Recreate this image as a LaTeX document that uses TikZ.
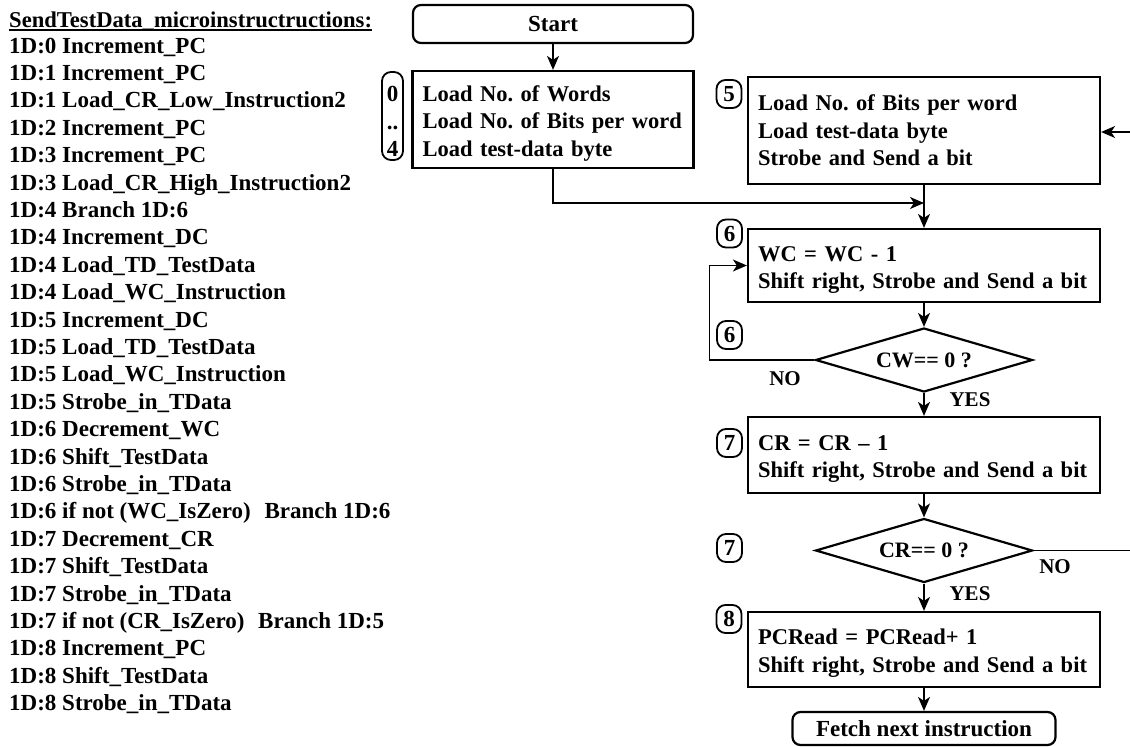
\documentclass[tikz,border=0pt]{standalone}
\usepackage{fontspec}
\setmainfont{Liberation Serif}
\usetikzlibrary{shapes.geometric,arrows.meta}
\frenchspacing

\begin{document}
\begin{tikzpicture}[x=1pt,y=-1pt,
  every node/.style={font=\bfseries\fontsize{23}{27.5}\selectfont},
  listline/.style={anchor=base west, inner sep=0pt},
  arr/.style={draw, line width=1.6pt, -{Stealth[length=14pt,width=12pt,inset=4pt]}},
  flowbox/.style={draw, line width=2.2pt, rectangle, align=left,
    inner xsep=10pt, inner ysep=0pt, text width=#1,
    font=\bfseries\fontsize{22.5}{27.5}\selectfont},
  termbox/.style={draw, line width=2.2pt, rectangle, rounded corners=8pt,
    inner sep=0pt, font=\bfseries\fontsize{23}{27.5}\selectfont},
  decision/.style={draw, diamond, aspect=3.4, line width=2.2pt,
    minimum width=217pt, minimum height=64pt, inner sep=0pt,
    font=\bfseries\fontsize{22}{26}\selectfont},
  stepnum/.style={draw, line width=1.8pt, rounded corners=9pt,
    minimum width=25pt, minimum height=28pt, inner sep=0pt, align=center},
  branchlabel/.style={inner sep=0pt, font=\bfseries\fontsize{21}{25}\selectfont}
]
\useasboundingbox (0,0) rectangle (1130,747);
% strut that sets the height of a box's first text line
\newcommand{\firstline}[1]{\rule{0pt}{#1}}

% ---- microinstruction listing ----
\node[listline, font=\bfseries\fontsize{22.6}{27}\selectfont] (title) at (9,27)
  {SendTestData\_microinstructructions:};
\draw[line width=1.5pt] ([yshift=-3pt]title.base west) -- ([yshift=-3pt]title.base east);

\foreach \txt [count=\i] in {
  1D:0 Increment\_PC,
  1D:1 Increment\_PC,
  1D:1 Load\_CR\_Low\_Instruction2,
  1D:2 Increment\_PC,
  1D:3 Increment\_PC,
  1D:3 Load\_CR\_High\_Instruction2,
  1D:4 Branch 1D:6,
  1D:4 Increment\_DC,
  1D:4 Load\_TD\_TestData,
  1D:4 Load\_WC\_Instruction,
  1D:5 Increment\_DC,
  1D:5 Load\_TD\_TestData,
  1D:5 Load\_WC\_Instruction,
  1D:5 Strobe\_in\_TData,
  1D:6 Decrement\_WC,
  1D:6 Shift\_TestData,
  1D:6 Strobe\_in\_TData,
  1D:6 if not (WC\_IsZero)\hspace{8pt} Branch 1D:6,
  1D:7 Decrement\_CR,
  1D:7 Shift\_TestData,
  1D:7 Strobe\_in\_TData,
  1D:7 if not (CR\_IsZero)\hspace{8pt} Branch 1D:5,
  1D:8 Increment\_PC,
  1D:8 Shift\_TestData,
  1D:8 Strobe\_in\_TData}
  \node[listline] (m\i) at (9,{53+27.4*(\i-1)}) {\txt};

% ---- flowchart ----
\node[termbox, minimum width=280pt, minimum height=38pt] (start) at (553,24) {Start};

\node[flowbox=261pt, minimum height=97pt] (b1) at (553,119.5)
  {\firstline{23pt}Load No. of Words\\Load No. of Bits per word\\Load test-data byte};
\node[stepnum, minimum width=21pt, minimum height=88pt] (s04) at (392.5,116)
  {\firstline{26pt}0\\..\\4};

\node[flowbox=332pt, minimum height=107pt] (b5) at (924,130.5)
  {Load No. of Bits per word\\Load test-data byte\\Strobe and Send a bit};
\node[stepnum] (s5) at (729,94) {5};

\node[flowbox=332pt, minimum height=73pt] (b6) at (924,265.5)
  {\firstline{24pt}WC = WC - 1\\Shift right, Strobe and Send a bit};
\node[stepnum] (s6a) at (729.5,233.5) {6};

\node[decision] (d1) at (924,360) {CW== 0 ?};
\node[stepnum] (s6b) at (729.5,335) {6};
\node[branchlabel] (no1) at (785,379) {NO};
\node[branchlabel] (yes1) at (970,400) {YES};

\node[flowbox=332pt, minimum height=76pt] (b7) at (924,455)
  {\firstline{23pt}CR = CR -- 1\\Shift right, Strobe and Send a bit};
\node[stepnum] (s7a) at (729.5,443) {7};

\node[decision] (d2) at (924,550.5) {CR== 0 ?};
\node[stepnum] (s7b) at (729.5,548) {7};
\node[branchlabel] (no2) at (1055,567) {NO};
\node[branchlabel] (yes2) at (970,594) {YES};

\node[flowbox=332pt, minimum height=75pt] (b8) at (924,649.5)
  {\firstline{23pt}PCRead = PCRead+ 1\\Shift right, Strobe and Send a bit};
\node[stepnum] (s8) at (729,619) {8};

\node[termbox, minimum width=263pt, minimum height=33pt] (fetch) at (924,728.5) {Fetch next instruction};

% ---- connectors ----
\coordinate (join) at (924,203);
\coordinate (outcr) at (1130,550.5);
\coordinate (inloop) at (1130,132);

\draw[arr] (start) -- (b1);
\draw[arr] (b1.south) |- (join);
\draw[arr] (b5) -- (b6);
\draw[arr] (b6) -- (d1);
\draw[arr] (d1.west) -- ++(-105,0) |- (b6.west);
\draw[arr] (d1) -- (b7);
\draw[arr] (b7) -- (d2);
\draw[line width=1.6pt] (d2.east) -- (outcr);
\draw[arr] (inloop) -- (inloop -| b5.east);
\draw[arr] (d2) -- (b8);
\draw[arr] (b8) -- (fetch);
\end{tikzpicture}
\end{document}
